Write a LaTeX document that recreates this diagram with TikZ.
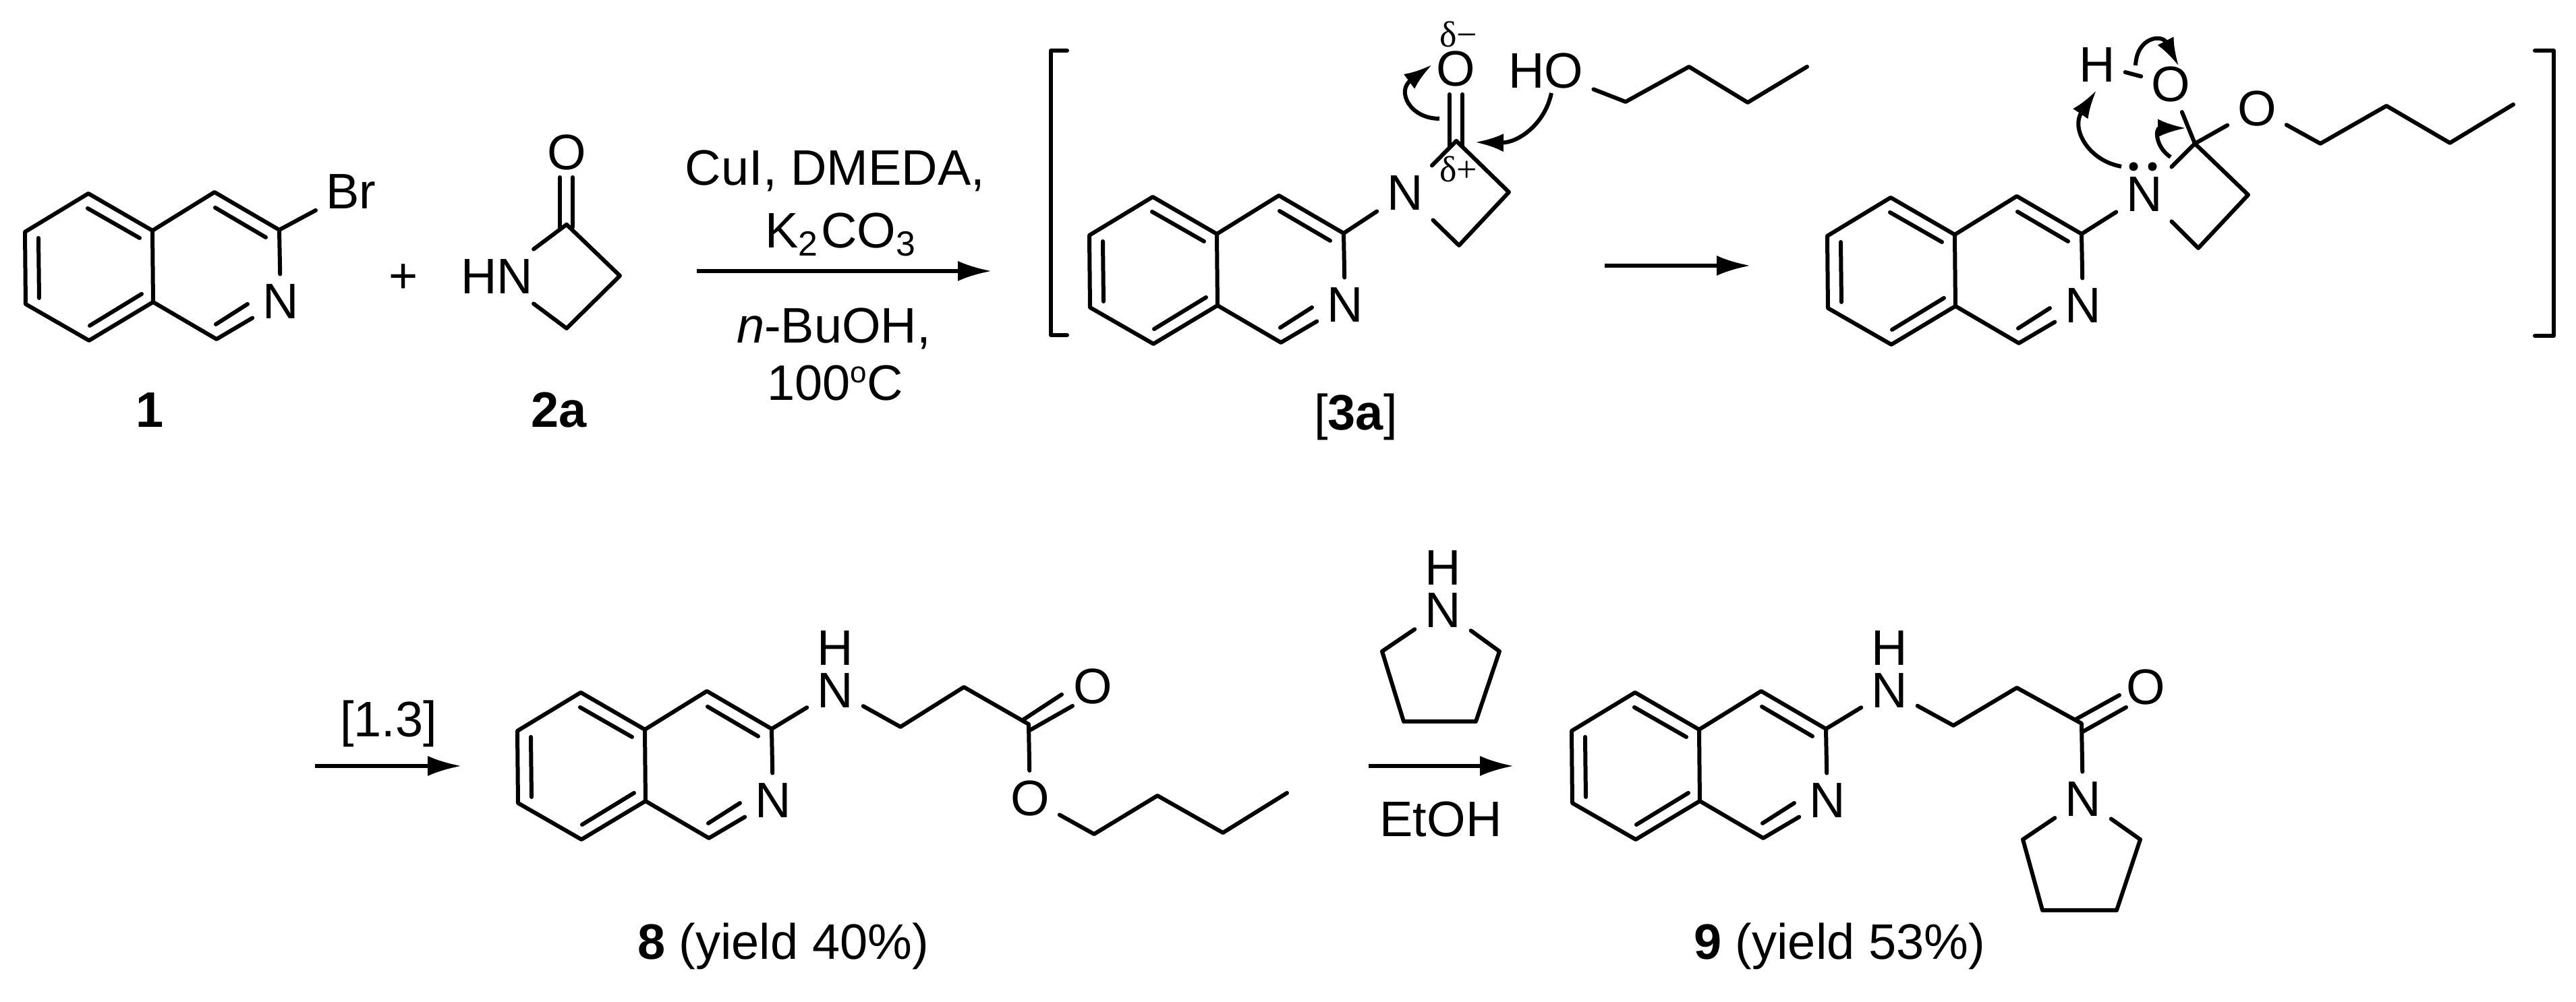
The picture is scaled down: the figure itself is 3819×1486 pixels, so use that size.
\documentclass[tikz,border=0pt]{standalone}
\usepackage{fontspec}
\setmainfont{Liberation Sans}
\newfontfamily\delfont{Liberation Serif}
\usetikzlibrary{arrows.meta}

\tikzset{
    atom/.style={inner sep=1.3pt, font=\fontsize{7.4}{8.8}\selectfont},
    smalldelta/.style={inner sep=0pt, font=\delfont\fontsize{5.4}{6}\selectfont},
    bond/.style={line width=0.6pt, line join=round, line cap=round},
    rxnarrow/.style={line width=0.55pt, -{Latex[length=5pt,width=3pt]}},
    curly/.style={line width=0.6pt, -{Latex[length=4.2pt,width=2.7pt]}},
    pics/isoquin/.style={code={
        \coordinate (-c3) at (414,341);
        \node[atom] (-n) at (416,447) {N};
        % ring outline
        \draw[bond] (-n) -- (-c3) -- (318,285) -- (226,342) -- (131,287) -- (37,344)
            -- (38,451) -- (132,505) -- (227,448) -- (321,503) -- (-n);
        \draw[bond] (226,342) -- (227,448);
        % inner double bonds
        \foreach \xa/\ya/\xb/\yb in {130/309/207/353, 57/353/58/442, 133/483/210/436,
            319/308/394/352, 320/481/367/451} {
            \draw[bond] (\xa,\ya) -- (\xb,\yb);
        }
    }}
}

\begin{document}
\begin{tikzpicture}[x=0.1pt, y=-0.1pt]
    \useasboundingbox (0,0) rectangle (3819,1486);

    % Bromoisoquinoline
    \pic (ra) at (0,0) {isoquin};
    \node[atom] (br) at (520,284) {Br};
    \draw[bond] (ra-c3) -- (br);
    \node[atom] (labone) at (222,608) {\bfseries 1};
    \node[atom] (plus) at (598,413) {+};

    % Azetidinone
    \node[atom] (hn) at (737,410) {HN};
    \node[atom] (oa) at (840,226) {O};
    \coordinate (ca) at (840,333);
    \coordinate (cb) at (919,409);
    \coordinate (cc) at (840,487);
    \draw[bond] (hn) -- (ca) -- (cb) -- (cc) -- (hn);
    \draw[bond] (830,263) -- (830,340);
    \draw[bond] (849,263) -- (849,337);
    \node[atom] (labtwo) at (829,608) {\bfseries 2a};

    % First reaction arrow
    \node[atom] (cond1) at (1238,253) {CuI, DMEDA,};
    \node[atom] (cond2) at (1248,348) {K\textsubscript{2}CO\textsubscript{3}};
    \node[atom] (cond3) at (1236,487) {\textit{n}-BuOH,};
    \node[atom] (cond4) at (1238,568) {100\raisebox{2.6pt}{\fontsize{4.4}{5}\selectfont o}C};
    \coordinate (arra) at (1033,402);
    \coordinate (arrb) at (1470,402);
    \draw[rxnarrow] (arra) -- (arrb);

    % Brackets
    \draw[bond] (1582,75) -- (1558,75) -- (1558,497) -- (1582,497);
    \draw[bond] (3758,75) -- (3786,75) -- (3786,498) -- (3758,498);

    % Intermediate 3a
    \pic (rb) at (1578,5) {isoquin};
    \node[atom] (nb) at (2083,286) {N};
    \node[atom] (ob) at (2158,102) {O};
    \node[atom] (hob) at (2292,105) {HO};
    \coordinate (cd) at (2159,209);
    \coordinate (ce) at (2237,285);
    \coordinate (cf) at (2163,364);
    \draw[bond] (rb-c3) -- (nb);
    \draw[bond] (nb) -- (cd) -- (ce) -- (cf) -- (nb);
    \draw[bond] (2149,140) -- (2149,217);
    \draw[bond] (2168,140) -- (2168,217);
    \draw[bond] (hob) -- (2410,151) -- (2504,99) -- (2591,152) -- (2679,99);
    \node[smalldelta] (dminus) at (2162,51) {δ−};
    \node[smalldelta] (dplus) at (2162,251) {δ+};
    \node[atom] (labthree) at (2010,618) {[\textbf{3a}]};

    % Curly arrows on 3a
    \coordinate (cua) at (2134,176);
    \coordinate (cub) at (2123,96);
    \coordinate (cuc) at (2300,138);
    \coordinate (cud) at (2187,211);
    \draw[curly] (cua) .. controls (2090,176) and (2070,135) .. (cub);
    \draw[curly] (cuc) .. controls (2290,185) and (2250,212) .. (cud);

    % Middle arrow
    \coordinate (arrc) at (2379,394);
    \coordinate (arrd) at (2595,394);
    \draw[rxnarrow] (arrc) -- (arrd);

    % Tetrahedral intermediate
    \pic (rc) at (2672,6) {isoquin};
    \node[atom] (nc) at (3179,288) {N};
    \node[atom] (hc) at (3109,96) {H};
    \node[atom] (oc) at (3218,125) {O};
    \node[atom] (oe) at (3346,161) {O};
    \coordinate (cg) at (3254,213);
    \coordinate (ch) at (3333,289);
    \coordinate (ci) at (3259,368);
    \draw[bond] (rc-c3) -- (nc);
    \draw[bond] (nc) -- (cg) -- (ch) -- (ci) -- (nc);
    \draw[bond] (cg) -- (oc);
    \draw[bond] (cg) -- (oe);
    \draw[bond] (hc) -- (oc);
    \draw[bond] (oe) -- (3440,213) -- (3538,157) -- (3632,212) -- (3726,155);
    \fill (3163,247) circle (6.5);
    \fill (3191,247) circle (6.5);

    % Curly arrows on the tetrahedral intermediate
    \coordinate (cue) at (3145,247);
    \coordinate (cuf) at (3108,134);
    \coordinate (cug) at (3218,233);
    \coordinate (cuh) at (3241,190);
    \coordinate (cui) at (3166,97);
    \coordinate (cuj) at (3230,98);
    \draw[curly] (cue) .. controls (3095,238) and (3070,190) .. (cuf);
    \draw[curly] (cug) .. controls (3195,218) and (3195,190) .. (cuh);
    \draw[curly] (cui) .. controls (3168,55) and (3205,50) .. (cuj);

    % Rearrangement arrow
    \node[atom] (shift) at (576,1073) {[1.3]};
    \coordinate (arre) at (467,1136);
    \coordinate (arrf) at (684,1136);
    \draw[rxnarrow] (arre) -- (arrf);

    % Ester 8
    \pic (rd) at (730,740) {isoquin};
    \node[atom] (nd) at (1238,1024) {N};
    \node[atom] (hd) at (1238,961) {H};
    \node[atom] (od) at (1620,1018) {O};
    \node[atom] (oee) at (1527,1184) {O};
    \coordinate (cj) at (1525,1074);
    \draw[bond] (rd-c3) -- (nd);
    \draw[bond] (nd) -- (1335,1078) -- (1429,1019) -- (cj) -- (oee);
    \draw[bond] (1516,1068) -- (1574,1030);
    \draw[bond] (1525,1084) -- (1590,1047);
    \draw[bond] (oee) -- (1622,1237) -- (1716,1180) -- (1813,1235) -- (1908,1176);
    \node[atom] (labeight) at (1161,1403) {\textbf{8} (yield 40\%)};

    % Pyrrolidine over the last arrow
    \node[atom] (hr) at (2139,842) {H};
    \node[atom] (nr) at (2139,905) {N};
    \draw[bond] (nr) -- (2049,966) -- (2081,1070) -- (2188,1070) -- (2223,966) -- (nr);
    \coordinate (arrg) at (2029,1136);
    \coordinate (arrh) at (2244,1136);
    \draw[rxnarrow] (arrg) -- (arrh);
    \node[atom] (etoh) at (2136,1215) {EtOH};

    % Amide 9
    \pic (re) at (2293,740) {isoquin};
    \node[atom] (ne) at (2801,1024) {N};
    \node[atom] (he) at (2801,961) {H};
    \node[atom] (oh) at (3181,1019) {O};
    \node[atom] (nf) at (3088,1185) {N};
    \coordinate (ck) at (3086,1073);
    \draw[bond] (re-c3) -- (ne);
    \draw[bond] (ne) -- (2896,1076) -- (2990,1020) -- (ck) -- (nf);
    \draw[bond] (3077,1067) -- (3142,1031);
    \draw[bond] (3088,1085) -- (3152,1049);
    \draw[bond] (nf) -- (2999,1245) -- (3028,1350) -- (3138,1350) -- (3173,1245) -- (nf);
    \node[atom] (labnine) at (2727,1403) {\textbf{9} (yield 53\%)};
\end{tikzpicture}
\end{document}
